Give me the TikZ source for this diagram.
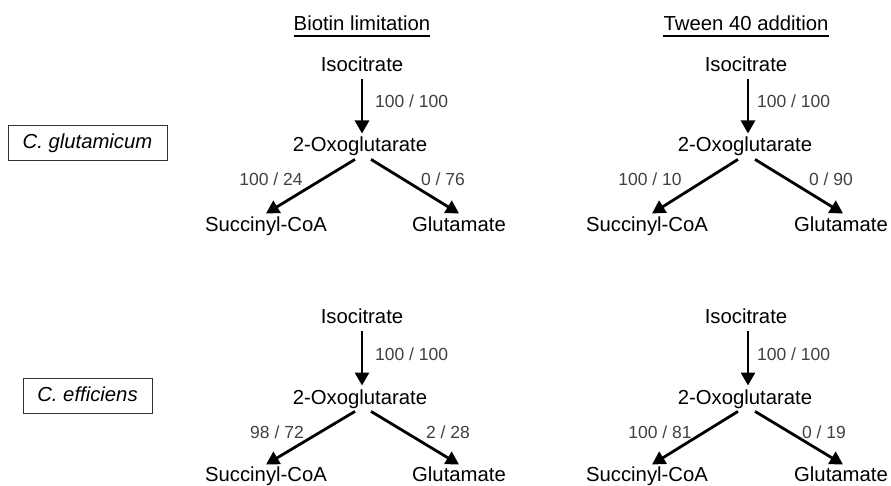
\documentclass[tikz,border=0pt]{standalone}
\usepackage{fontspec}
\setmainfont{Liberation Sans}
\usetikzlibrary{arrows.meta}
\definecolor{lab}{HTML}{404040}
\begin{document}
\begin{tikzpicture}[x=1bp,y=-1bp,
  every node/.style={inner sep=0pt},
  chem/.style={font=\fontsize{20.3bp}{24bp}\selectfont, text height=15.3bp, text depth=4.2bp, inner ysep=3bp, inner xsep=0pt, anchor=base},
  flux/.style={font=\fontsize{17.5bp}{21bp}\selectfont, text=lab, anchor=base},
  ttl/.style={font=\fontsize{20.3bp}{24bp}\selectfont, anchor=base},
  orgbox/.style={draw=black!80, line width=0.8bp, font=\fontsize{20.3bp}{24bp}\selectfont\itshape, minimum height=35bp, text height=15.3bp, text depth=4.2bp},
  arr/.style={-{Triangle[length=13bp,width=14bp]}, line width=2.8bp},
  uline/.style={line width=1.2bp}
]
\useasboundingbox (0,0) rectangle (891,486);

% titles
\node[ttl] (t1) at (362,31) {Biotin limitation};
\draw[uline] ([yshift=-5bp]t1.base west) -- ([yshift=-5bp]t1.base east);
\node[ttl] (t2) at (746,31) {Tween 40 addition};
\draw[uline] ([yshift=-5bp]t2.base west) -- ([yshift=-5bp]t2.base east);

% organism boxes
\node[orgbox, minimum width=159bp] (cg) at (87.5,142.5) {C. glutamicum};
\node[orgbox, minimum width=129bp] (ce) at (87.5,395.5) {C. efficiens};

% panel A: top left
\node[chem] (iA) at (362,72) {Isocitrate};
\node[chem] (oA) at (360,152) {2-Oxoglutarate};
\node[chem] (sA) at (266,232) {Succinyl-CoA};
\node[chem] (gA) at (459,232) {Glutamate};
\draw[arr] (iA.south) -- (iA.south |- oA.north);
\draw[arr] ([xshift=-5bp]oA.south) -- (sA.north);
\draw[arr] ([xshift=11bp]oA.south) -- (gA.north);
\node[flux, anchor=base west] (fA1) at (375,108) {100 / 100};
\node[flux] (fA2) at (271,186) {100 / 24};
\node[flux] (fA3) at (443,186) {0 / 76};

% panel B: top right
\node[chem] (iB) at (746,72) {Isocitrate};
\node[chem] (oB) at (745,152) {2-Oxoglutarate};
\node[chem] (sB) at (647,232) {Succinyl-CoA};
\node[chem] (gB) at (841,232) {Glutamate};
\draw[arr] ([xshift=2bp]iB.south) -- ([xshift=2bp]iB.south |- oB.north);
\draw[arr] ([xshift=-7bp]oB.south) -- ([xshift=5bp]sB.north);
\draw[arr] ([xshift=10bp]oB.south) -- ([xshift=2bp]gB.north);
\node[flux, anchor=base west] (fB1) at (757,108) {100 / 100};
\node[flux] (fB2) at (650,186) {100 / 10};
\node[flux] (fB3) at (831,186) {0 / 90};

% panel C: bottom left
\node[chem] (iC) at (362,324) {Isocitrate};
\node[chem] (oC) at (360,404) {2-Oxoglutarate};
\node[chem] (sC) at (266,481) {Succinyl-CoA};
\node[chem] (gC) at (459,481) {Glutamate};
\draw[arr] (iC.south) -- (iC.south |- oC.north);
\draw[arr] ([xshift=-5bp]oC.south) -- ([yshift=-2bp]sC.north);
\draw[arr] ([xshift=11bp]oC.south) -- ([yshift=-2bp]gC.north);
\node[flux, anchor=base west] (fC1) at (375,360) {100 / 100};
\node[flux] (fC2) at (277,438) {98 / 72};
\node[flux] (fC3) at (448,438) {2 / 28};

% panel D: bottom right
\node[chem] (iD) at (746,324) {Isocitrate};
\node[chem] (oD) at (745,404) {2-Oxoglutarate};
\node[chem] (sD) at (647,481) {Succinyl-CoA};
\node[chem] (gD) at (841,481) {Glutamate};
\draw[arr] ([xshift=2bp]iD.south) -- ([xshift=2bp]iD.south |- oD.north);
\draw[arr] ([xshift=-7bp]oD.south) -- ([shift={(5bp,-2bp)}]sD.north);
\draw[arr] ([xshift=10bp]oD.south) -- ([shift={(2bp,-2bp)}]gD.north);
\node[flux, anchor=base west] (fD1) at (757,360) {100 / 100};
\node[flux] (fD2) at (660,438) {100 / 81};
\node[flux] (fD3) at (824,438) {0 / 19};
\end{tikzpicture}
\end{document}
